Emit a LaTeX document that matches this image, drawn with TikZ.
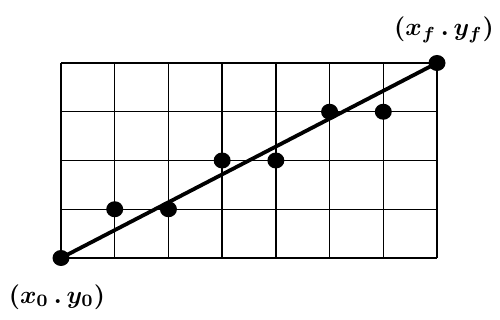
\documentclass[tikz,border=0pt]{standalone}
\usepackage{graphicx}
\usetikzlibrary{shapes.geometric}
\begin{document}
\begin{tikzpicture}[x=1pt,y=1pt,
  gridline/.style={line width=1.4pt},
  fitline/.style={line width=3.8pt},
  pixel/.style={ellipse,fill=black,inner sep=0pt,minimum width=17pt,minimum height=16pt},
  lbl/.style={inner sep=0pt}]
\useasboundingbox (0,0) rectangle (500,320);
\begin{scope}[shift={(61,62)},x=53.714pt,y=48.75pt]
  \foreach \i in {0,...,7} \draw[gridline] (\i,0) -- (\i,4);
  \foreach \j in {0,...,4} \draw[gridline] (0,\j) -- (7,\j);
  \node[pixel] (p0) at (0,0) {};
  \node[pixel] (p1) at (1,1) {};
  \node[pixel] (p2) at (2,1) {};
  \node[pixel] (p3) at (3,2) {};
  \node[pixel] (p4) at (4,2) {};
  \node[pixel] (p5) at (5,3) {};
  \node[pixel] (p6) at (6,3) {};
  \node[pixel] (p7) at (7,4) {};
  \draw[fitline] (p0.center) -- (p7.center);
\end{scope}
\node[lbl] (l0) at (57,23) {\scalebox{2.5}{\boldmath$(x_0\,.\,y_0)$}};
\node[lbl] (l7) at (444,290) {\scalebox{2.5}{\boldmath$(x_f\,.\,y_f)$}};
\end{tikzpicture}
\end{document}
